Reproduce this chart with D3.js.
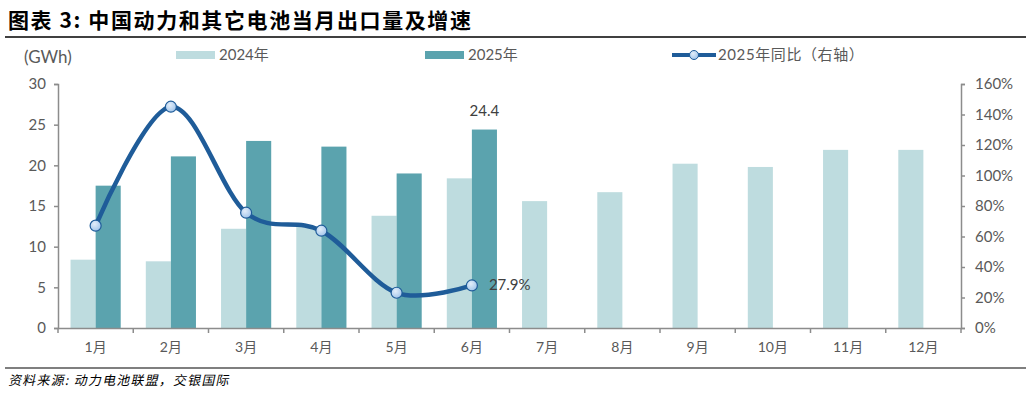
<!DOCTYPE html>
<html>
<head>
<meta charset="utf-8">
<script src="https://cdn.jsdelivr.net/npm/d3@7"></script>
<style>
  body { margin: 0; background: #fff; }
  svg text { font-family: Lato, "Noto Sans CJK SC", sans-serif; }
</style>
</head>
<body>
<svg id="chart" width="1030" height="393"></svg>
<script>
// data
const months = ["1月", "2月", "3月", "4月", "5月", "6月", "7月", "8月", "9月", "10月", "11月", "12月"];
const exports2024 = [8.4, 8.2, 12.2, 12.5, 13.8, 18.4, 15.6, 16.7, 20.2, 19.8, 21.9, 21.9];
const exports2025 = [17.5, 21.1, 23.0, 22.3, 19.0, 24.4];
const yoy2025 = [67.1, 145.1, 75.6, 63.8, 23.1, 27.9];
const leftTicks = [0, 5, 10, 15, 20, 25, 30];
const rightTicks = [0, 20, 40, 60, 80, 100, 120, 140, 160];

const c2024 = "#bedcdf", c2025 = "#5ba3ae", cLine = "#1f5c99", axisColor = "#8c8c8c", textColor = "#595959";

const svg = d3.select("#chart");
const m = { left: 58, right: 961, top: 84, bottom: 328 };

// title + rules
svg.append("text")
  .attr("x", 8).attr("y", 28)
  .style("font-family", "'Noto Sans CJK SC', sans-serif")
  .style("font-size", "21px").style("font-weight", "bold")
  .style("letter-spacing", "1.6px")
  .attr("fill", "#000")
  .text("图表 3: 中国动力和其它电池当月出口量及增速");
svg.append("line").attr("x1", 5).attr("x2", 1026).attr("y1", 37).attr("y2", 37)
  .attr("stroke", "#000").attr("stroke-width", 1.5);
svg.append("line").attr("x1", 5).attr("x2", 1026).attr("y1", 368).attr("y2", 368)
  .attr("stroke", "#000").attr("stroke-width", 1.2);
svg.append("text")
  .attr("x", 8).attr("y", 385)
  .style("font-family", "'Noto Sans CJK SC', sans-serif")
  .style("font-size", "13px")
  .style("letter-spacing", "1.2px")
  .attr("fill", "#000")
  .attr("transform", "skewX(-12) translate(82,0)")
  .text("资料来源: 动力电池联盟，交银国际");

// scales
const x = d3.scaleBand().domain(months).range([m.left, m.right]).paddingInner(0).paddingOuter(0);
const inner = d3.scaleBand().domain(["2024", "2025"]).range([0, x.bandwidth()]).paddingOuter(0.5).paddingInner(0);
const y = d3.scaleLinear().domain([0, 30]).range([m.bottom, m.top]);
const y2 = d3.scaleLinear().domain([0, 160]).range([m.bottom, m.top]);

// bars
svg.append("g").selectAll("rect")
  .data(exports2024)
  .join("rect")
  .attr("x", (d, i) => x(months[i]) + inner("2024"))
  .attr("y", d => y(d))
  .attr("width", inner.bandwidth())
  .attr("height", d => y(0) - y(d))
  .attr("fill", c2024);

svg.append("g").selectAll("rect")
  .data(exports2025)
  .join("rect")
  .attr("x", (d, i) => x(months[i]) + inner("2025"))
  .attr("y", d => y(d))
  .attr("width", inner.bandwidth())
  .attr("height", d => y(0) - y(d))
  .attr("fill", c2025);

// axes
const styleAxis = g => {
  g.select(".domain").attr("stroke", axisColor).attr("stroke-width", 1.5);
  g.selectAll(".tick line").attr("stroke", axisColor).attr("stroke-width", 1.5);
  g.selectAll(".tick text").attr("fill", textColor).style("font-size", "15px");
};

svg.append("g")
  .attr("transform", `translate(${m.left},0)`)
  .call(d3.axisLeft(y).tickValues(leftTicks).tickSize(4).tickSizeOuter(4).tickPadding(8))
  .call(styleAxis);

svg.append("g")
  .attr("transform", `translate(${m.right},0)`)
  .call(d3.axisRight(y2).tickValues(rightTicks).tickSize(4).tickSizeOuter(4).tickPadding(10).tickFormat(d => d + "%"))
  .call(styleAxis);

const xAxis = svg.append("g")
  .attr("transform", `translate(0,${m.bottom})`)
  .call(d3.axisBottom(x).tickSize(0).tickPadding(14))
  .call(styleAxis);
xAxis.selectAll(".tick text").style("font-size", "14px");
// ticks at category boundaries
xAxis.selectAll(".boundary")
  .data(d3.range(months.length + 1))
  .join("line")
  .attr("x1", i => m.left + i * x.step())
  .attr("x2", i => m.left + i * x.step())
  .attr("y1", 0).attr("y2", 5)
  .attr("stroke", axisColor).attr("stroke-width", 1.5);

// yoy line
const line = d3.line()
  .x((d, i) => x(months[i]) + x.bandwidth() / 2)
  .y(d => y2(d))
  .curve(d3.curveCatmullRom.alpha(0));

svg.append("path")
  .datum(yoy2025)
  .attr("d", line)
  .attr("fill", "none")
  .attr("stroke", cLine)
  .attr("stroke-width", 4.5);

const grad = svg.append("defs").append("radialGradient").attr("id", "mk").attr("cx", "40%").attr("cy", "35%").attr("r", "70%");
grad.append("stop").attr("offset", "0%").attr("stop-color", "#e3eefa");
grad.append("stop").attr("offset", "100%").attr("stop-color", "#9ec3ea");

svg.append("g").selectAll("circle")
  .data(yoy2025)
  .join("circle")
  .attr("cx", (d, i) => x(months[i]) + x.bandwidth() / 2)
  .attr("cy", d => y2(d))
  .attr("r", 5.5)
  .attr("fill", "url(#mk)")
  .attr("stroke", cLine)
  .attr("stroke-width", 1.2);

// data labels
const last = exports2025.length - 1;
svg.append("text")
  .attr("x", x(months[last]) + inner("2025") + inner.bandwidth() / 2)
  .attr("y", y(exports2025[last]) - 14)
  .attr("text-anchor", "middle")
  .attr("fill", "#404040")
  .style("font-size", "15px")
  .text(exports2025[last].toFixed(1));
svg.append("text")
  .attr("x", x(months[last]) + x.bandwidth() / 2 + 17)
  .attr("y", y2(yoy2025[last]) + 5)
  .attr("fill", "#404040")
  .style("font-size", "15px")
  .text(yoy2025[last].toFixed(1) + "%");

// unit + legend
svg.append("text").attr("x", 24).attr("y", 63)
  .attr("fill", textColor).style("font-size", "17px").text("(GWh)");

const legend = svg.append("g").style("font-size", "15px");
legend.append("rect").attr("x", 176).attr("y", 51).attr("width", 39).attr("height", 8).attr("fill", c2024);
legend.append("text").attr("x", 219).attr("y", 60).attr("fill", textColor).text("2024年");
legend.append("rect").attr("x", 425).attr("y", 51).attr("width", 39).attr("height", 8).attr("fill", c2025);
legend.append("text").attr("x", 468).attr("y", 60).attr("fill", textColor).text("2025年");
legend.append("line").attr("x1", 672).attr("x2", 716).attr("y1", 55).attr("y2", 55)
  .attr("stroke", cLine).attr("stroke-width", 4);
legend.append("circle").attr("cx", 694).attr("cy", 55).attr("r", 4.5)
  .attr("fill", "url(#mk)").attr("stroke", cLine).attr("stroke-width", 1);
legend.append("text").attr("x", 718).attr("y", 60).attr("fill", textColor)
  .style("letter-spacing", "0.6px").text("2025年同比（右轴）");
</script>
</body>
</html>
